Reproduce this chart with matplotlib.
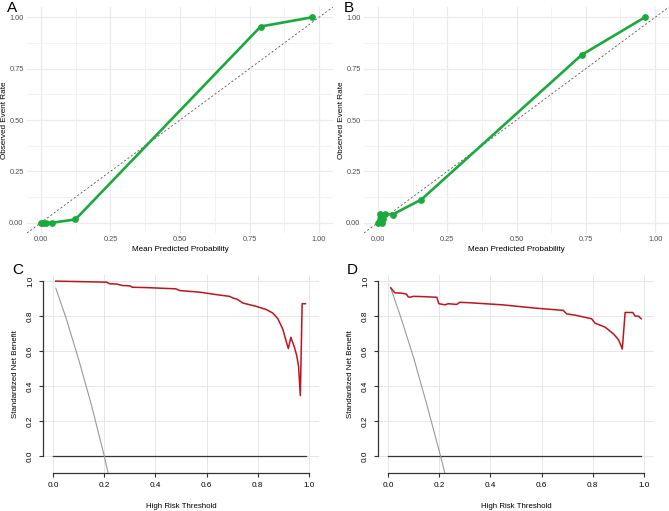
import matplotlib
matplotlib.use("Agg")
from matplotlib import pyplot as plt

######################## 数据 #######################
# A 校准曲线
cal_a_x = [0.0, 0.007, 0.02, 0.04, 0.124, 0.79, 0.975]
cal_a_y = [0.0, 0.0, 0.0, 0.0, 0.016, 0.955, 1.0]
# B 校准曲线
cal_b_x = [0.0, 0.007, 0.015, 0.018, 0.027, 0.053, 0.157, 0.735, 0.963]
cal_b_y = [0.0, 0.042, 0.0, 0.02, 0.042, 0.04, 0.113, 0.817, 1.0]

# C 决策曲线
dca_c_x = [0.01, 0.21, 0.22, 0.25, 0.27, 0.30, 0.31, 0.365, 0.48, 0.495, 0.573, 0.638,
           0.69, 0.703, 0.72, 0.742, 0.794, 0.833, 0.86, 0.879, 0.898, 0.914, 0.92,
           0.93, 0.944, 0.953, 0.96, 0.967, 0.974, 0.987]
dca_c_y = [1.0, 0.994, 0.985, 0.983, 0.975, 0.973, 0.965, 0.963, 0.956, 0.946, 0.937, 0.923,
           0.913, 0.904, 0.896, 0.875, 0.856, 0.838, 0.817, 0.785, 0.727, 0.644, 0.615,
           0.679, 0.621, 0.573, 0.515, 0.346, 0.871, 0.871]
all_c_x = [0.01, 0.05, 0.10, 0.15, 0.20, 0.215]
all_c_y = [0.96, 0.79, 0.55, 0.29, 0.0, -0.1]

# D 决策曲线
dca_d_x = [0.01, 0.026, 0.052, 0.063, 0.072, 0.078, 0.085, 0.098, 0.13, 0.183, 0.19,
           0.198, 0.222, 0.235, 0.268, 0.28, 0.313, 0.444, 0.574, 0.685, 0.698, 0.73,
           0.796, 0.809, 0.849, 0.882, 0.901, 0.911, 0.916, 0.927, 0.957, 0.966, 0.979, 0.99]
dca_d_y = [0.962, 0.933, 0.931, 0.929, 0.925, 0.91, 0.908, 0.913, 0.912, 0.908, 0.908,
           0.871, 0.865, 0.871, 0.867, 0.879, 0.877, 0.865, 0.846, 0.833, 0.813, 0.806,
           0.785, 0.76, 0.737, 0.698, 0.665, 0.631, 0.612, 0.821, 0.821, 0.8, 0.8, 0.785]
all_d_x = [0.01, 0.05, 0.10, 0.15, 0.205, 0.222]
all_d_y = [0.96, 0.79, 0.56, 0.30, 0.0, -0.1]

none_x = [0.0, 0.99]
none_y = [0.0, 0.0]

cal_ticks = [0.0, 0.25, 0.5, 0.75, 1.0]
cal_ticklabels = ["0.00", "0.25", "0.50", "0.75", "1.00"]
dca_ticks = [0.0, 0.2, 0.4, 0.6, 0.8, 1.0]
dca_ticklabels = ["0.0", "0.2", "0.4", "0.6", "0.8", "1.0"]

W, H = 669, 511
plt.rcParams['font.family'] = ['Liberation Sans', 'DejaVu Sans']


def px_axes(fig, left, top, right, bottom):
    # 用像素坐标建图
    return fig.add_axes([left / W, (H - bottom) / H, (right - left) / W, (bottom - top) / H])


######################## 校准曲线 (ggplot 风格) #######################
def calibration(fig, box, xs, ys, letter):
    ax = px_axes(fig, *box)
    ax.set_xlim(-0.05, 1.05)
    ax.set_ylim(-0.05, 1.05)
    minor = [0.125, 0.375, 0.625, 0.875]
    for v in cal_ticks:
        ax.axvline(v, color="#EBEBEB", lw=0.9, zorder=0)
        ax.axhline(v, color="#EBEBEB", lw=0.9, zorder=0)
    for v in minor:
        ax.axvline(v, color="#F0F0F0", lw=0.6, zorder=0)
        ax.axhline(v, color="#F0F0F0", lw=0.6, zorder=0)
    ax.plot([-0.05, 1.05], [-0.05, 1.05], color="#555555", lw=0.6, dashes=(2.5, 2.5), zorder=1)
    ax.plot(xs, ys, color="#1AAA3C", lw=1.9, zorder=2)
    ax.scatter(xs, ys, s=15, color="#1AAA3C", zorder=3)
    for s in ax.spines.values():
        s.set_visible(False)
    ax.set_xticks(cal_ticks)
    ax.set_xticklabels(cal_ticklabels)
    ax.set_yticks(cal_ticks)
    ax.set_yticklabels(cal_ticklabels)
    ax.tick_params(length=0, labelsize=5.3, labelcolor="#4D4D4D", pad=2.5)
    ax.set_xlabel("Mean Predicted Probability", fontsize=5.9, labelpad=2)
    ax.set_ylabel("Observed Event Rate", fontsize=5.9, labelpad=0.5)
    fig.text((box[0] - 20) / W, 1 - 1 / H, letter, fontsize=11, va="top", ha="left")
    return ax


######################## 决策曲线 (base R 风格) #######################
def decision(fig, box, xs, ys, all_x, all_y, letter):
    ax = px_axes(fig, *box)
    ax.set_xlim(-0.04, 1.04)
    ax.set_ylim(-0.096, 1.035)
    for v in dca_ticks:
        ax.axvline(v, color="#E6E6E6", lw=0.7, zorder=0)
        ax.axhline(v, color="#E6E6E6", lw=0.7, zorder=0)
    ax.plot(none_x, none_y, color="#333333", lw=0.9, zorder=2)
    ax.plot(all_x, all_y, color="#999999", lw=0.8, zorder=2)
    ax.plot(xs, ys, color="#C0141C", lw=1.1, zorder=3)
    ax.spines["top"].set_visible(False)
    ax.spines["right"].set_visible(False)
    ax.spines["left"].set_bounds(0, 1)
    ax.spines["bottom"].set_bounds(0, 1)
    for s in ["left", "bottom"]:
        ax.spines[s].set_color("#333333")
        ax.spines[s].set_linewidth(0.9)
    ax.set_xticks(dca_ticks)
    ax.set_xticklabels(dca_ticklabels)
    ax.set_yticks(dca_ticks)
    ax.set_yticklabels(dca_ticklabels, rotation=90, va="center")
    ax.tick_params(length=3, width=0.8, color="#333333", labelsize=5.9, pad=3.5)
    ax.set_xlabel("High Risk Threshold", fontsize=5.7, labelpad=10)
    ax.set_ylabel("Standardized Net Benefit", fontsize=5.7, labelpad=6)
    fig.text((box[0] - 31) / W, 1 - 263 / H, letter, fontsize=11, va="top", ha="left")
    return ax


if __name__ == '__main__':
    fig = plt.figure(figsize=(W / 100, H / 100), dpi=100)
    calibration(fig, (27, 7, 333, 233), cal_a_x, cal_a_y, "A")
    calibration(fig, (364, 7, 669, 233), cal_b_x, cal_b_y, "B")
    decision(fig, (43, 275, 319, 473), dca_c_x, dca_c_y, all_c_x, all_c_y, "C")
    decision(fig, (378, 275, 654, 473), dca_d_x, dca_d_y, all_d_x, all_d_y, "D")
    fig.savefig("out.png", dpi=100)
